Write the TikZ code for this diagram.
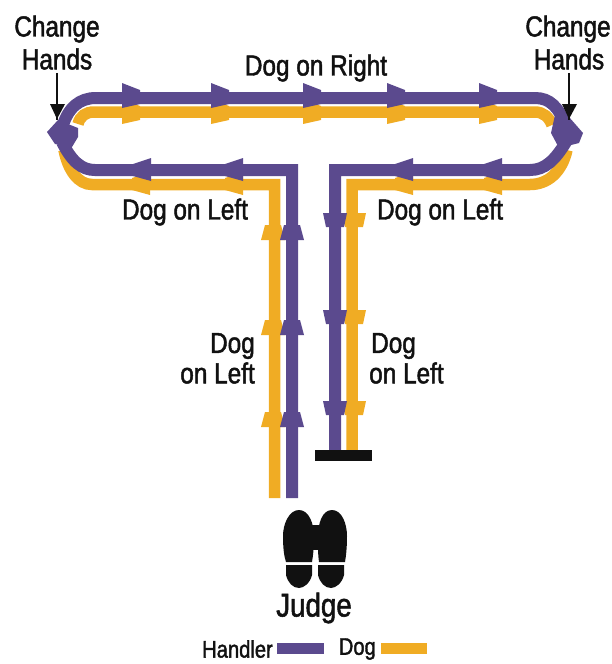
\documentclass[tikz,border=0pt]{standalone}
\usepackage{fontspec}
\setmainfont[FakeStretch=0.84,FakeBold=1.6]{Liberation Sans}
\definecolor{hand}{HTML}{5B4A8E}
\definecolor{dogc}{HTML}{F0AC24}
\definecolor{ink}{HTML}{111111}
\newcommand{\lblfont}{\fontsize{29}{29}\selectfont}
\tikzset{
  lbl/.style={inner sep=0pt,text=ink,font=\lblfont},
  handline/.style={draw=hand,line width=12pt,line join=miter},
  dogline/.style={draw=dogc,line width=11.5pt,line join=miter},
  callout/.style={draw=ink,line width=2.2pt,shorten <=3pt},
  callouttip/.style={fill=ink,draw=none},
}
% blunt arrowheads: #1,#2 = base position, #3 = colour
\newcommand{\headR}[3]{\fill[#3] (#1,#2-14)--(#1+18,#2-7)--(#1+18,#2+7)--(#1,#2+11)--cycle;}
\newcommand{\headL}[3]{\fill[#3] (#1,#2-12)--(#1-18,#2-6)--(#1-18,#2+6)--(#1,#2+11)--cycle;}
\newcommand{\headU}[3]{\fill[#3] (#1-12,#2)--(#1-8,#2-15)--(#1+8,#2-15)--(#1+12,#2)--cycle;}
\newcommand{\headD}[3]{\fill[#3] (#1-12,#2)--(#1-9,#2+14)--(#1+9,#2+14)--(#1+12,#2)--cycle;}
\begin{document}
\begin{tikzpicture}[x=1pt,y=-1pt]
\useasboundingbox (0,0) rectangle (612,664);
% dog route
\draw[dogline] (274.5,498) -- (274.5,184.5) -- (92,184.5) .. controls (78,184.5) and (68,170) .. (64,150);
\draw[dogline] (78,124) .. controls (80,116) and (86,112) .. (94,112) -- (535,112) .. controls (543,112) and (549,117) .. (552,125);
\draw[dogline] (352,450) -- (352,184.5) -- (530,184.5) .. controls (548,184.5) and (562,172) .. (567,150);
% dog heads
\foreach \x in {122,211,303,387,479} {\headR{\x}{113}{dogc}}
\foreach \x in {150,243,413,502} {\headL{\x}{184}{dogc}}
\foreach \y in {240,335,427} {\headU{273}{\y}{dogc}}
\foreach \y in {213,310,401} {\headD{354}{\y}{dogc}}
% handler route
\draw[handline] (292,498) -- (292,170) -- (95,170) .. controls (82,170) and (72,162) .. (62,142);
\draw[handline] (62,128) .. controls (68,107) and (80,98) .. (96,98) -- (535,98) .. controls (550,98) and (558,107) .. (566,125);
\draw[handline] (335,450) -- (335,170) -- (530,170) .. controls (545,170) and (555,160) .. (566,142);
\fill[hand] (47,132)--(58,120)--(78,128)--(78,137)--(72,147)--(55,144)--cycle;
\fill[hand] (551,133)--(555,115)--(569,117)--(583,133)--(579,143)--(559,148)--cycle;
% handler heads
\foreach \x in {122,211,303,387,479} {\headR{\x}{97}{hand}}
\foreach \x in {151,243,413,502} {\headL{\x}{170}{hand}}
\foreach \y in {240,335,427} {\headU{292}{\y}{hand}}
\foreach \y in {213,310,401} {\headD{335}{\y}{hand}}
% stop bar
\fill[ink] (315,450) rectangle (372,461);
% labels
\node[lbl] (chl1) at (57,29) {Change};
\node[lbl] (chl2) at (57,59) {Hands};
\node[lbl] (chr1) at (568,29) {Change};
\node[lbl] (chr2) at (569,59) {Hands};
\node[lbl] (right) at (316,68) {Dog on Right};
\node[lbl] (leftA) at (185,212) {Dog on Left};
\node[lbl] (leftB) at (440,212) {Dog on Left};
\node[lbl,anchor=east] (d1) at (255,346) {Dog};
\node[lbl,anchor=east] (d2) at (255,373) {on Left};
\node[lbl,anchor=west] (d3) at (371,346) {Dog};
\node[lbl,anchor=west] (d4) at (369,373) {on Left};
\node[lbl,font=\fontsize{33}{33}\selectfont] (judge) at (314,608) {Judge};
% change-hands pointers
\coordinate (tipL) at (57,120);
\coordinate (tipR) at (569,120);
\draw[callout] (chl2.south -| tipL) -- (tipL);
\draw[callout] (chr2.south -| tipR) -- (tipR);
\fill[callouttip] (50,104)--(65,104)--(57,119)--cycle;
\fill[callouttip] (562,104)--(577,104)--(569,119)--cycle;
% shoes
\fill[ink] (299,510) .. controls (309,510) and (314,524) .. (314,536) .. controls (314,548) and (313,556) .. (312,562) -- (286,562) .. controls (284,556) and (283,548) .. (283,536) .. controls (283,524) and (289,510) .. (299,510) -- cycle;
\fill[ink] (332,510) .. controls (342,510) and (347,524) .. (347,536) .. controls (347,548) and (346,556) .. (345,562) -- (319,562) .. controls (318,556) and (318,548) .. (318,536) .. controls (318,524) and (322,510) .. (332,510) -- cycle;
\fill[ink] (312,525) rectangle (320,550);
\fill[ink] (286,565) -- (312,565) -- (312,575) .. controls (310,583) and (304,588) .. (299,588) .. controls (293,588) and (288,583) .. (286,575) -- cycle;
\fill[ink] (318,565) -- (344,565) -- (344,575) .. controls (342,583) and (336,588) .. (331,588) .. controls (325,588) and (320,583) .. (318,575) -- cycle;
% legend
\node[lbl,font=\fontsize{24}{24}\selectfont,anchor=east] (lh) at (273,649) {Handler};
\fill[hand] (277,643) rectangle (324,654);
\node[lbl,font=\fontsize{24}{24}\selectfont,anchor=east] (ld) at (376,649) {Dog};
\fill[dogc] (381,643) rectangle (427,654);
\end{tikzpicture}
\end{document}
